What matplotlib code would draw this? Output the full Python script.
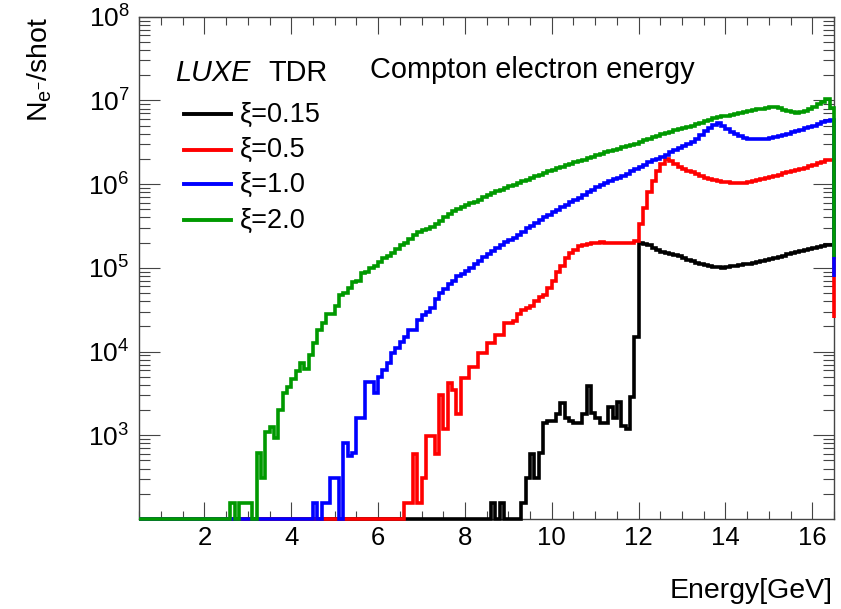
import numpy as np
import matplotlib
matplotlib.use("Agg")
import matplotlib.pyplot as plt
from matplotlib.lines import Line2D
from matplotlib.ticker import FixedLocator, MultipleLocator, NullFormatter

plt.rcParams['font.family'] = ['Liberation Sans', 'DejaVu Sans']
plt.rcParams['mathtext.fontset'] = 'custom'
plt.rcParams['mathtext.rm'] = 'Liberation Sans'
plt.rcParams['mathtext.it'] = 'Liberation Sans:italic'
plt.rcParams['mathtext.bf'] = 'Liberation Sans:bold'

# ---------------- data ----------------
E_MIN, E_MAX, BIN_W = 0.5, 16.5, 0.1
Y_MIN, Y_MAX = 100, 1e8

labels = ["ξ=0.15", "ξ=0.5", "ξ=1.0", "ξ=2.0"]
colors = ["#000000", "#ff0000", "#0000ff", "#009900"]

# counts per 0.1 GeV bin, starting at the given lower bin edge; last value is the edge bin at 16.5
black_start = 8.6
black_counts = [
    155, 0, 155, 0, 0, 0, 0, 155, 310, 600,
    310, 620, 1400, 1500, 1500, 1800, 2400, 1600, 1500, 1400,
    1400, 1800, 3900, 1850, 1600, 1400, 1400, 2200, 1600, 2500,
    1300, 1200, 2900, 15000, 2.0e5, 1.95e5, 1.85e5, 1.75e5, 1.65e5, 1.55e5,
    1.5e5, 1.47e5, 1.43e5, 1.38e5, 1.32e5, 1.25e5, 1.2e5, 1.15e5, 1.11e5, 1.08e5,
    1.05e5, 1.03e5, 1.02e5, 1.0e5, 1.03e5, 1.04e5, 1.06e5, 1.07e5, 1.1e5, 1.12e5,
    1.14e5, 1.17e5, 1.2e5, 1.24e5, 1.28e5, 1.32e5, 1.36e5, 1.4e5, 1.45e5, 1.49e5,
    1.55e5, 1.6e5, 1.65e5, 1.7e5, 1.74e5, 1.78e5, 1.82e5, 1.86e5, 1.88e5, 1.27e5,
]

red_start = 6.6
red_counts = [
    155, 155, 600, 155, 310, 970, 970, 600, 3000, 1200,
    4200, 3500, 1800, 4900, 4900, 6500, 6500, 9600, 9600, 12700,
    12700, 15800, 15800, 22000, 22000, 23000, 28000, 31000, 33000, 35000,
    40000, 45000, 48000, 58000, 70000, 88000, 1.05e5, 1.3e5, 1.5e5, 1.65e5,
    1.8e5, 1.9e5, 1.95e5, 1.98e5, 2.0e5, 2.02e5, 1.98e5, 2.0e5, 1.96e5, 2.0e5,
    1.98e5, 2.0e5, 2.0e5, 2.1e5, 3.3e5, 5.2e5, 8.0e5, 1.1e6, 1.45e6, 1.75e6,
    2.0e6, 1.9e6, 1.75e6, 1.62e6, 1.52e6, 1.45e6, 1.38e6, 1.32e6, 1.26e6, 1.2e6,
    1.15e6, 1.11e6, 1.08e6, 1.06e6, 1.05e6, 1.04e6, 1.03e6, 1.03e6, 1.04e6, 1.06e6,
    1.08e6, 1.11e6, 1.15e6, 1.18e6, 1.21e6, 1.25e6, 1.3e6, 1.35e6, 1.4e6, 1.43e6,
    1.47e6, 1.52e6, 1.58e6, 1.63e6, 1.7e6, 1.78e6, 1.85e6, 1.93e6, 1.95e6, 2.5e4,
]

blue_start = 4.5
blue_counts = [
    155, 0, 155, 155, 310, 310, 0, 800, 570, 620,
    1600, 1600, 4300, 4300, 3200, 5000, 6000, 7400, 9600, 11000,
    13000, 15000, 18000, 18000, 24000, 27000, 30000, 33000, 42000, 50000,
    56000, 65000, 70000, 80000, 85000, 92000, 1.0e5, 1.1e5, 1.2e5, 1.35e5,
    1.45e5, 1.6e5, 1.75e5, 1.9e5, 2.05e5, 2.15e5, 2.3e5, 2.5e5, 2.7e5, 3.0e5,
    3.2e5, 3.4e5, 3.7e5, 4.0e5, 4.3e5, 4.6e5, 4.9e5, 5.3e5, 5.7e5, 6.1e5,
    6.5e5, 6.9e5, 7.4e5, 8.0e5, 8.6e5, 9.2e5, 9.8e5, 1.03e6, 1.09e6, 1.14e6,
    1.2e6, 1.26e6, 1.33e6, 1.42e6, 1.5e6, 1.6e6, 1.7e6, 1.82e6, 1.93e6, 2.0e6,
    2.1e6, 2.25e6, 2.4e6, 2.55e6, 2.7e6, 2.85e6, 3.0e6, 3.2e6, 3.5e6, 3.9e6,
    4.3e6, 4.7e6, 5.1e6, 5.3e6, 4.9e6, 4.5e6, 4.2e6, 3.95e6, 3.75e6, 3.6e6,
    3.5e6, 3.45e6, 3.45e6, 3.45e6, 3.5e6, 3.55e6, 3.65e6, 3.75e6, 3.9e6, 4.0e6,
    4.15e6, 4.3e6, 4.45e6, 4.65e6, 4.8e6, 5.0e6, 5.2e6, 5.45e6, 5.65e6, 5.8e6,
    7.8e4,
]

green_start = 2.6
green_counts = [
    155, 0, 155, 155, 155, 0, 620, 310, 1080, 1240,
    930, 2000, 3200, 3800, 4700, 5800, 7300, 6200, 9000, 12500,
    18000, 22000, 28000, 28000, 35000, 47000, 50000, 58000, 68000, 70000,
    86000, 88000, 1.0e5, 1.04e5, 1.18e5, 1.3e5, 1.4e5, 1.52e5, 1.7e5, 1.86e5,
    2.0e5, 2.22e5, 2.45e5, 2.65e5, 2.8e5, 2.9e5, 3.1e5, 3.3e5, 3.6e5, 4.0e5,
    4.4e5, 4.8e5, 5.0e5, 5.3e5, 5.6e5, 5.9e5, 6.1e5, 6.5e5, 7.0e5, 7.5e5,
    7.9e5, 8.2e5, 8.6e5, 9.0e5, 9.4e5, 9.8e5, 1.03e6, 1.08e6, 1.13e6, 1.19e6,
    1.26e6, 1.30e6, 1.36e6, 1.42e6, 1.48e6, 1.56e6, 1.60e6, 1.68e6, 1.75e6, 1.82e6,
    1.90e6, 1.96e6, 2.04e6, 2.12e6, 2.20e6, 2.30e6, 2.40e6, 2.48e6, 2.56e6, 2.66e6,
    2.76e6, 2.86e6, 2.95e6, 3.05e6, 3.2e6, 3.35e6, 3.5e6, 3.65e6, 3.8e6, 3.95e6,
    4.1e6, 4.25e6, 4.4e6, 4.55e6, 4.7e6, 4.85e6, 5.0e6, 5.2e6, 5.4e6, 5.65e6,
    5.9e6, 6.15e6, 6.3e6, 6.45e6, 6.55e6, 6.65e6, 6.8e6, 7.0e6, 7.2e6, 7.45e6,
    7.65e6, 7.85e6, 8.0e6, 8.15e6, 8.3e6, 8.35e6, 8.1e6, 7.7e6, 7.4e6, 7.2e6,
    7.1e6, 7.2e6, 7.5e6, 7.8e6, 8.4e6, 9.0e6, 9.5e6, 1.04e7, 8.1e6, 1.35e5,
]

x_ticks = [2, 4, 6, 8, 10, 12, 14, 16]
y_ticks = [1e3, 1e4, 1e5, 1e6, 1e7, 1e8]
y_ticklabels = [r"$\mathregular{10^{%d}}$" % p for p in range(3, 9)]

# ---------------- binning ----------------
n_reg = int(round((E_MAX - E_MIN) / BIN_W))
edges = np.append(np.round(E_MIN + BIN_W * np.arange(n_reg + 1), 3), E_MAX + 0.001)


def full_hist(start, counts):
    arr = np.zeros(len(edges) - 1)
    i0 = int(round((start - E_MIN) / BIN_W))
    assert i0 + len(counts) == len(arr), (start, len(counts), len(arr) - i0)
    arr[i0:] = counts
    return arr


series = [
    full_hist(black_start, black_counts),
    full_hist(red_start, red_counts),
    full_hist(blue_start, blue_counts),
    full_hist(green_start, green_counts),
]

# ---------------- figure ----------------
W, H = 841, 609
fig = plt.figure(figsize=(W / 100, H / 100), dpi=100)
L, R, T, B = 139.3, 834.0, 16.7, 519.0
ax = fig.add_axes([L / W, 1 - B / H, (R - L) / W, (B - T) / H])

for vals, col in zip(series, colors):
    shown = np.where(vals > 0, vals, Y_MIN)
    ax.stairs(shown, edges, baseline=None, color=col, lw=2.6, clip_on=False, zorder=3)

ax.set_xlim(E_MIN, E_MAX)
ax.set_yscale("log")
ax.set_ylim(Y_MIN, Y_MAX)

ax.xaxis.set_major_locator(FixedLocator(x_ticks))
ax.xaxis.set_minor_locator(MultipleLocator(0.5))
ax.xaxis.set_minor_formatter(NullFormatter())
ax.set_xticklabels([str(t) for t in x_ticks])

ax.yaxis.set_major_locator(FixedLocator(y_ticks))
ax.yaxis.set_minor_locator(FixedLocator([k * 10.0 ** n for n in range(2, 8) for k in range(2, 10)]))
ax.yaxis.set_minor_formatter(NullFormatter())
ax.set_yticklabels(y_ticklabels)

tick_col = "#444444"
ax.tick_params(axis="x", which="major", direction="in", length=12, width=0.8,
               top=True, bottom=True, labelsize=18.5, pad=5, color=tick_col)
ax.tick_params(axis="x", which="minor", direction="in", length=6, width=0.8,
               top=True, bottom=True, color=tick_col)
ax.tick_params(axis="y", which="major", direction="in", length=15, width=0.8,
               left=True, right=True, labelsize=19, pad=7, color=tick_col)
ax.tick_params(axis="y", which="minor", direction="in", length=8, width=0.8,
               left=True, right=True, color=tick_col)
for sp in ax.spines.values():
    sp.set_color(tick_col)
    sp.set_linewidth(1.0)

# axis titles
fig.text(833 / W, 1 - 597.7 / H, "Energy[GeV]", ha="right", va="baseline", fontsize=20.5)
fig.text(40 / W, 1 - 16.7 / H, r"$\mathregular{N_{e^{-}}}$/shot", rotation=90,
         ha="center", va="top", fontsize=20.5)

# header texts
fig.text(175 / W, 1 - 80.7 / H, "LUXE", style="italic", fontsize=20.8, va="baseline")
fig.text(268 / W, 1 - 80.7 / H, "TDR", fontsize=20.8, va="baseline")
fig.text(370 / W, 1 - 78.5 / H, "Compton electron energy", fontsize=20.8, va="baseline")

# legend
baselines = [121.7, 157.0, 191.6, 227.7]
for lab, col, yb in zip(labels, colors, baselines):
    yl = yb - 7.5
    fig.add_artist(Line2D([184 / W, 231 / W], [1 - yl / H, 1 - yl / H],
                          transform=fig.transFigure, color=col, lw=2.8))
    fig.text(240 / W, 1 - yb / H, lab, fontsize=19.5, va="baseline")

fig.savefig("out.png", dpi=100, facecolor="white")
